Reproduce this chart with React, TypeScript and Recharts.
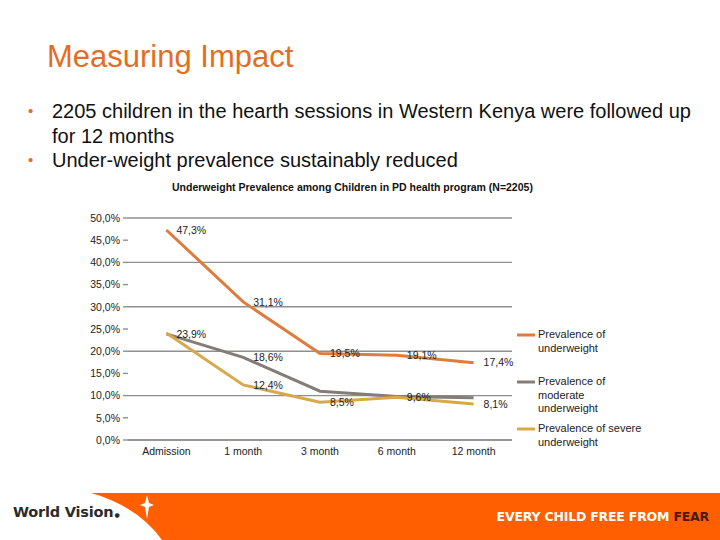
import { LineChart, Line, CartesianGrid, XAxis, YAxis, Legend, LabelList } from 'recharts';

// follow-up points of the PD hearth cohort
const months = ['Admission', '1 month', '3 month', '6 month', '12 month'];

// prevalence in percent per follow-up point
const underweight = [47.3, 31.1, 19.5, 19.1, 17.4];
const moderate = [23.9, 18.6, 11.0, 9.8, 9.5];
const severe = [24.1, 12.4, 8.5, 9.6, 8.1];

// which points carry a value label
const underweightLabels = [true, true, true, true, true];
const moderateLabels = [true, true, false, false, false];
const severeLabels = [false, true, true, true, true];

const yTicks = [0, 5, 10, 15, 20, 25, 30, 35, 40, 45, 50];

const seriesOrder = ['underweight', 'moderate', 'severe'];

const seriesNames = {
  underweight: 'Prevalence of underweight',
  moderate: 'Prevalence of moderate underweight',
  severe: 'Prevalence of severe underweight'
};

const data = months.map((month, i) => ({
  month,
  underweight: underweight[i],
  moderate: moderate[i],
  severe: severe[i]
}));

const colors = {
  underweight: '#DF7B3D',
  moderate: '#847C76',
  severe: '#D8A84A'
};

const pct = (v: number) => v.toFixed(1).replace('.', ',') + '%';

const chartFont = '"Liberation Sans", Arial, sans-serif';

function pointLabel(flags: boolean[]) {
  return (props: any) => {
    const { x, y, value, index } = props;
    if (!flags[index]) return null;
    return (
      <text x={x + 10} y={y} dy="0.35em" fontSize={10.5} fill="#222" fontFamily={chartFont}>
        {pct(value)}
      </text>
    );
  };
}

function LegendBox(props: any) {
  const items = [...props.payload].sort(
    (a: any, b: any) => seriesOrder.indexOf(a.dataKey) - seriesOrder.indexOf(b.dataKey)
  );
  return (
    <div style={{ fontFamily: chartFont, fontSize: 11, color: '#222' }}>
      {items.map((item: any) => (
        <div key={item.dataKey} style={{ height: 47, display: 'flex', alignItems: 'flex-start' }}>
          <svg width={21} height={14} style={{ flex: 'none' }}>
            <line x1={0} x2={18} y1={7} y2={7} stroke={item.color} strokeWidth={3} />
          </svg>
          <div style={{ width: 108, lineHeight: '13.5px' }}>{item.value}</div>
        </div>
      ))}
    </div>
  );
}

export default function App() {
  return (
    <div style={page}>
      <div style={title}>Measuring Impact</div>

      <div style={bullets}>
        <div style={bulletRow}>
          <span style={dot}>•</span>
          <span>2205 children in the hearth sessions in Western Kenya were followed up<br />for 12 months</span>
        </div>
        <div style={bulletRow}>
          <span style={dot}>•</span>
          <span>Under-weight prevalence sustainably reduced</span>
        </div>
      </div>

      <div style={chartTitle}>Underweight Prevalence among Children in PD health program (N=2205)</div>

      <div style={{ position: 'absolute', left: 0, top: 0 }}>
        <LineChart width={720} height={540} data={data} margin={{ top: 218, right: 208, bottom: 70, left: 78 }}>
          <CartesianGrid vertical={false} stroke="#8f8f8f" strokeWidth={1.4} />
          <XAxis
            dataKey="month"
            scale="band"
            height={30}
            axisLine={{ stroke: '#8f8f8f', strokeWidth: 1.4 }}
            tickLine={false}
            tick={{ fontSize: 10.5, fill: '#222', fontFamily: chartFont }}
          />
          <YAxis
            width={50}
            domain={[0, 50]}
            ticks={yTicks}
            tickFormatter={pct}
            axisLine={false}
            tickLine={{ stroke: '#8f8f8f', strokeWidth: 1.4 }}
            tickSize={5}
            tickMargin={3}
            tick={{ fontSize: 10.5, fill: '#222', fontFamily: chartFont }}
          />
          <Legend
            layout="horizontal"
            align="center"
            verticalAlign="middle"
            wrapperStyle={{ left: 517, top: 328, width: 140 }}
            content={LegendBox}
          />
          <Line
            dataKey="underweight"
            name={seriesNames.underweight}
            stroke={colors.underweight}
            strokeWidth={3}
            dot={false}
            isAnimationActive={false}
          >
            <LabelList dataKey="underweight" content={pointLabel(underweightLabels)} />
          </Line>
          <Line
            dataKey="moderate"
            name={seriesNames.moderate}
            stroke={colors.moderate}
            strokeWidth={3}
            dot={false}
            isAnimationActive={false}
          >
            <LabelList dataKey="moderate" content={pointLabel(moderateLabels)} />
          </Line>
          <Line
            dataKey="severe"
            name={seriesNames.severe}
            stroke={colors.severe}
            strokeWidth={3}
            dot={false}
            isAnimationActive={false}
          >
            <LabelList dataKey="severe" content={pointLabel(severeLabels)} />
          </Line>
        </LineChart>
      </div>

      {/* footer band with logo */}
      <svg width={720} height={48} style={{ position: 'absolute', left: 0, top: 492 }}>
        <rect x={0} y={1} width={720} height={47} fill="#FF5F00" />
        <path d="M0,0 L88,0 Q138,14 162,48 L0,48 Z" fill="#ffffff" />
        <path d="M147,3 L149,11 L154,13 L149,15 L147,27 L145,15 L140,13 L145,11 Z" fill="#ffffff" />
        <text x={13} y={25} fontSize={14.5} fontWeight={700} fill="#2b2b2b" fontFamily='"DejaVu Sans", sans-serif' letterSpacing={-0.2}>
          World Vision<tspan fontSize={6} dx={1}>●</tspan>
        </text>
        <text x={709} y={29} textAnchor="end" fontSize={12.5} fontWeight={700} fill="#ffffff" fontFamily='"DejaVu Sans", sans-serif' letterSpacing={-0.2}>
          EVERY CHILD FREE FROM <tspan fill="#4a1a08">FEAR</tspan>
        </text>
      </svg>
    </div>
  );
}

const page = {
  position: 'absolute' as const,
  left: 0,
  top: 0,
  width: 720,
  height: 540,
  background: '#ffffff',
  overflow: 'hidden' as const,
  fontFamily: '"Liberation Sans", Arial, sans-serif'
};

const title = {
  position: 'absolute' as const,
  left: 47,
  top: 39,
  fontSize: 31,
  color: '#E46D22',
  whiteSpace: 'nowrap' as const
};

const bullets = {
  position: 'absolute' as const,
  left: 28,
  top: 99,
  fontSize: 20,
  lineHeight: '24.5px',
  color: '#111'
};

const bulletRow = {
  display: 'flex',
  whiteSpace: 'nowrap' as const
};

const dot = {
  color: '#E46D22',
  width: 24,
  flex: 'none' as const,
  fontSize: 15
};

const chartTitle = {
  position: 'absolute' as const,
  left: 172,
  top: 181,
  width: 355,
  textAlign: 'center' as const,
  fontSize: 10.5,
  fontWeight: 700,
  color: '#111',
  whiteSpace: 'nowrap' as const
};
